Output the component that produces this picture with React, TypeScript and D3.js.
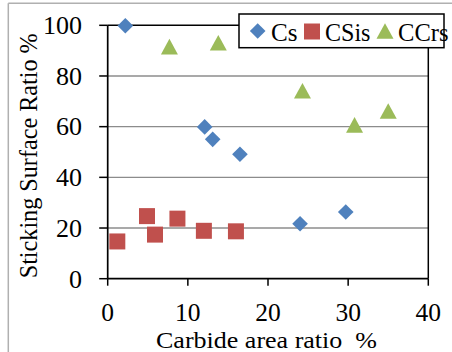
import React from "react";
import * as d3 from "d3";

const xTicks = [0, 10, 20, 30, 40];
const yTicks = [0, 20, 40, 60, 80, 100];

const csX = [2.2, 12.1, 13.1, 16.5, 24.0, 29.7];
const csY = [99.8, 59.9, 55.0, 49.1, 21.7, 26.3];

const csisX = [1.2, 4.9, 5.9, 8.7, 12.0, 16.0];
const csisY = [14.7, 24.7, 17.4, 23.7, 18.9, 18.7];

const ccrsX = [7.7, 13.8, 24.3, 30.8, 35.0];
const ccrsY = [91.6, 93.1, 74.2, 60.7, 66.2];

const seriesNames = ["Cs", "CSis", "CCrs"];
const colors = ["#4F81BD", "#C0504D", "#9BBB59"];

const FONT = "Liberation Serif";

function markerPath(kind: number, cx: number, cy: number): string {
  if (kind === 0) {
    const r = 7.8;
    return `M${cx},${cy - r}L${cx + r},${cy}L${cx},${cy + r}L${cx - r},${cy}Z`;
  }
  if (kind === 1) {
    const h = 8;
    return `M${cx - h},${cy - h}H${cx + h}V${cy + h}H${cx - h}Z`;
  }
  const w = 8.5;
  const hh = 7.8;
  return `M${cx},${cy - hh}L${cx + w},${cy + hh}L${cx - w},${cy + hh}Z`;
}

export default function App() {
  const W = 452;
  const H = 352;
  const left = 107.7;
  const right = 428.3;
  const top = 25.3;
  const bottom = 278.7;

  const x = d3.scaleLinear().domain([0, 40]).range([left, right]);
  const y = d3.scaleLinear().domain([0, 100]).range([bottom, top]);

  const series = [
    { xs: csX, ys: csY },
    { xs: csisX, ys: csisY },
    { xs: ccrsX, ys: ccrsY },
  ];

  const legendMarkers = [
    { cx: 257.7, cy: 31 },
    { cx: 312, cy: 31.5 },
    { cx: 385, cy: 31 },
  ];
  const legendText = [
    { x: 271, len: 26.5 },
    { x: 325, len: 45.5 },
    { x: 398, len: 50.5 },
  ];

  const txt = { fontFamily: FONT } as React.CSSProperties;

  return (
    <svg
      width={W}
      height={H}
      style={{ position: "absolute", left: 0, top: 0, background: "#fff" }}
    >
      <rect x={0} y={0} width={W} height={H} fill="#fff" />
      {/* chart frame */}
      <line x1={8.3} x2={W} y1={3.3} y2={3.3} stroke="#b0b0b0" strokeWidth={1.5} />
      <line x1={8.3} x2={8.3} y1={3.3} y2={H} stroke="#b0b0b0" strokeWidth={1.5} />

      {/* gridlines */}
      {yTicks
        .filter((t) => t !== 0 && t !== 100)
        .map((t) => (
          <line
            key={"g" + t}
            x1={left}
            x2={right}
            y1={y(t)}
            y2={y(t)}
            stroke="#8c8c8c"
            strokeWidth={1.3}
          />
        ))}

      {/* plot area border */}
      <line x1={left} x2={right} y1={top} y2={top} stroke="#000" strokeWidth={1.5} />
      <line x1={right} x2={right} y1={top} y2={bottom} stroke="#000" strokeWidth={1.5} />

      {/* axes */}
      <line x1={left} x2={left} y1={top} y2={bottom} stroke="#000" strokeWidth={1.7} />
      <line x1={left} x2={right} y1={bottom} y2={bottom} stroke="#000" strokeWidth={1.7} />

      {yTicks.map((t) => (
        <g key={"yt" + t}>
          <line x1={left - 8.5} x2={left} y1={y(t)} y2={y(t)} stroke="#000" strokeWidth={1.5} />
          <text x={82} y={y(t) + 8.8} textAnchor="end" style={txt} fontSize={26} fill="#000">
            {t}
          </text>
        </g>
      ))}
      {xTicks.map((t) => (
        <g key={"xt" + t}>
          <line x1={x(t)} x2={x(t)} y1={bottom} y2={bottom + 7} stroke="#000" strokeWidth={1.5} />
          <text x={x(t)} y={321} textAnchor="middle" style={txt} fontSize={25.5} fill="#000">
            {t}
          </text>
        </g>
      ))}

      {/* axis titles */}
      <text
        x={266.5}
        y={347.5}
        textAnchor="middle"
        fontSize={23.5}
        fill="#000"
        style={{ ...txt, whiteSpace: "pre" }}
        textLength={221}
        lengthAdjust="spacingAndGlyphs"
      >
        {"Carbide area ratio  %"}
      </text>
      <text
        transform={`translate(37.3, 155.8) rotate(-90)`}
        x={0}
        y={0}
        textAnchor="middle"
        style={txt}
        fontSize={25}
        fill="#000"
        textLength={245}
        lengthAdjust="spacingAndGlyphs"
      >
        Sticking Surface Ratio %
      </text>

      {/* data */}
      {series.map((s, si) =>
        s.xs.map((xv, i) => (
          <path
            key={`p${si}-${i}`}
            d={markerPath(si, x(xv), y(s.ys[i]))}
            fill={colors[si]}
          />
        ))
      )}

      {/* legend */}
      <rect x={239} y={14} width={205} height={33.7} fill="#fff" stroke="#000" strokeWidth={1.5} />
      {seriesNames.map((name, i) => (
        <g key={"lg" + i}>
          <path d={markerPath(i, legendMarkers[i].cx, legendMarkers[i].cy)} fill={colors[i]} />
          <text
            x={legendText[i].x}
            y={40.5}
            style={txt}
            fontSize={25}
            fill="#000"
            textLength={legendText[i].len}
            lengthAdjust="spacingAndGlyphs"
          >
            {name}
          </text>
        </g>
      ))}
    </svg>
  );
}
